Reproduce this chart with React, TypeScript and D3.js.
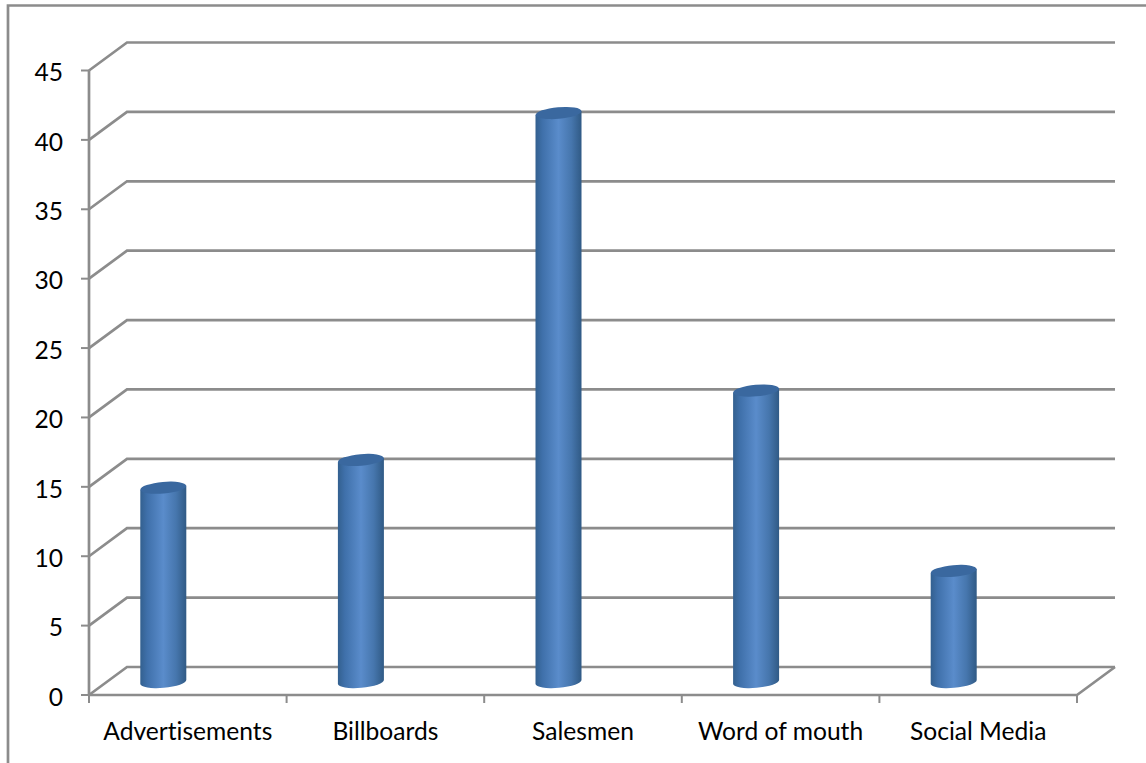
import React from "react";
import * as d3 from "d3";

const categories = ["Advertisements", "Billboards", "Salesmen", "Word of mouth", "Social Media"];
const responses = [14, 16, 41, 21, 8];
const valueTicks = [0, 5, 10, 15, 20, 25, 30, 35, 40, 45];

const WIDTH = 1146;
const HEIGHT = 763;
const FONT = "Lato, 'Open Sans', sans-serif";
const GRID = "#8c8c8c";
const LABEL_SIZE = 24.6;

// Depth of the 3D box: how far the back wall sits from the front axis.
const DEPTH_X = 38;
const DEPTH_Y = -28;
// Bars stand on the floor, just behind the front edge.
const BAR_BASE_LIFT = 13;
const BAR_WIDTH = 46;
const CAP_RY = 5.8;
const CAP_TILT = -5;
const BAR_SHIFT = -24.5;

export default function App() {
  const x = d3.scaleBand<string>().domain(categories).range([89, 1077]);
  const y = d3.scaleLinear().domain([0, 45]).range([695, 70.5]);

  const xEdges = d3.range(categories.length + 1).map((i) => 89 + i * x.step());

  return (
    <svg
      width={WIDTH}
      height={HEIGHT}
      viewBox={`0 0 ${WIDTH} ${HEIGHT}`}
      style={{ position: "absolute", left: 0, top: 0, background: "#fff", fontVariantLigatures: "none" }}
    >
      <defs>
        <linearGradient id="cylinder" x1="0" x2="1" y1="0" y2="0">
          <stop offset="0" stopColor="#33608f" />
          <stop offset="0.15" stopColor="#3f70aa" />
          <stop offset="0.5" stopColor="#5a8ccb" />
          <stop offset="0.78" stopColor="#4676ad" />
          <stop offset="1" stopColor="#305a85" />
        </linearGradient>
      </defs>

      {/* Outer frame: left and top edges only */}
      <path d={`M8,${HEIGHT} V5.5 H${WIDTH}`} fill="none" stroke={GRID} strokeWidth={2.7} />

      {/* Gridlines run across the back wall and fold down the side wall */}
      {valueTicks.map((t) => (
        <path
          key={t}
          d={`M${x.range()[0]},${y(t)} L${x.range()[0] + DEPTH_X},${y(t) + DEPTH_Y} H${1077 + DEPTH_X}`}
          fill="none"
          stroke={GRID}
          strokeWidth={2.7}
        />
      ))}

      {/* Front axes */}
      <line x1={89} x2={89} y1={y(45)} y2={y(0)} stroke={GRID} strokeWidth={2.7} />
      <path
        d={`M89,${y(0)} H1077 L${1077 + DEPTH_X},${y(0) + DEPTH_Y}`}
        fill="none"
        stroke={GRID}
        strokeWidth={2.7}
      />

      {/* Value axis */}
      {valueTicks.map((t) => (
        <g key={t}>
          <line x1={81} x2={89} y1={y(t)} y2={y(t)} stroke={GRID} strokeWidth={2} />
          <text x={63} y={y(t) + 4.5} textAnchor="end" dominantBaseline="middle" fontFamily={FONT} fontSize={LABEL_SIZE} fill="#000">
            {t}
          </text>
        </g>
      ))}

      {/* Category axis */}
      {xEdges.map((ex) => (
        <line key={ex} x1={ex} x2={ex} y1={y(0)} y2={703} stroke={GRID} strokeWidth={2} />
      ))}
      {categories.map((c) => (
        <text
          key={c}
          x={x(c)! + x.bandwidth() / 2}
          y={740}
          textAnchor="middle"
          fontFamily={FONT}
          fontSize={LABEL_SIZE}
          fill="#000"
        >
          {c}
        </text>
      ))}

      {/* Cylinders */}
      {categories.map((c, i) => {
        const cx = x(c)! + x.bandwidth() / 2 + BAR_SHIFT;
        const left = cx - BAR_WIDTH / 2;
        const right = cx + BAR_WIDTH / 2;
        const base = y(0) - BAR_BASE_LIFT;
        const top = y(responses[i]) - BAR_BASE_LIFT;
        const tiltY = Math.tan((-CAP_TILT * Math.PI) / 180) * (BAR_WIDTH / 2);
        const body =
          `M${left},${top + tiltY} L${left},${base + tiltY} ` +
          `A${BAR_WIDTH / 2},${CAP_RY} ${CAP_TILT} 0 0 ${right},${base - tiltY} ` +
          `L${right},${top - tiltY} Z`;
        return (
          <g key={c}>
            <path d={body} fill="url(#cylinder)" />
            <ellipse
              cx={cx}
              cy={top}
              rx={BAR_WIDTH / 2}
              ry={CAP_RY}
              fill="#3a689f"
              transform={`rotate(${CAP_TILT} ${cx} ${top})`}
            />
          </g>
        );
      })}
    </svg>
  );
}
